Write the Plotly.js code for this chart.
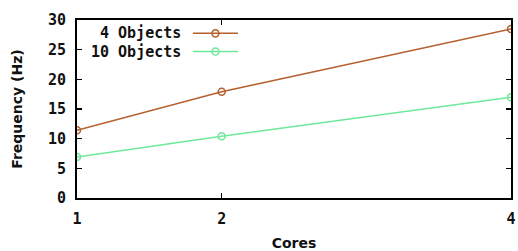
<!DOCTYPE html>
<html><head><meta charset="utf-8">
<script src="https://cdn.plot.ly/plotly-3.0.1.min.js"></script>
<style>html,body{margin:0;padding:0;background:#fff}#chart{width:518px;height:251px}</style>
</head><body><div id="chart"></div>
<script>
const cores = [1, 2, 4];
const objects4 = [11.4, 17.9, 28.5];
const objects10 = [6.9, 10.4, 17.0];
const seriesNames = ["4 Objects", "10 Objects"];
const xTicks = [1, 2, 4];
const yTicks = [0, 5, 10, 15, 20, 25, 30];

const brown = "#b5602e";
const green = "#6ee99a";
const monoFont = {family: "DejaVu Sans Mono", size: 15, color: "#111", weight: "bold"};
const titleFont = {family: "DejaVu Sans", size: 14, color: "#111", weight: "bold"};

const traces = [
  {x: cores, y: objects4, name: seriesNames[0], mode: "lines+markers", showlegend: false,
   line: {color: brown, width: 1.5}, marker: {symbol: "circle-open", size: 7, color: brown, line: {width: 1.5}}},
  {x: cores, y: objects10, name: seriesNames[1], mode: "lines+markers", showlegend: false,
   line: {color: green, width: 1.5}, marker: {symbol: "circle-open", size: 7, color: green, line: {width: 1.5}}}
];

const axisCommon = {
  showgrid: false, zeroline: false, showline: true, linecolor: "#000", linewidth: 2,
  mirror: "allticks", ticks: "inside", ticklen: 5, tickcolor: "#000", tickwidth: 1.5,
  tickfont: monoFont
};

const legendY = [0.925, 0.823];
const colors = [brown, green];
const shapes = [];
const annotations = [];
seriesNames.forEach((n, i) => {
  annotations.push({xref: "paper", yref: "paper", x: 0.245, y: legendY[i], xanchor: "right", yanchor: "middle",
    text: n, showarrow: false, font: monoFont});
  shapes.push({type: "line", xref: "paper", yref: "paper", x0: 0.267, x1: 0.371, y0: legendY[i], y1: legendY[i],
    line: {color: colors[i], width: 1.5}});
  shapes.push({type: "circle", xref: "paper", yref: "paper", x0: 0.311, x1: 0.327,
    y0: legendY[i] - 0.02, y1: legendY[i] + 0.02, line: {color: colors[i], width: 1.5}, fillcolor: "rgba(0,0,0,0)"});
});

const layout = {
  width: 518, height: 251,
  margin: {l: 77, r: 7, t: 20, b: 53},
  paper_bgcolor: "#fff", plot_bgcolor: "#fff",
  showlegend: false,
  xaxis: Object.assign({}, axisCommon, {range: [1, 4], tickvals: xTicks, ticktext: xTicks.map(String),
    ticklabelstandoff: 6,
    title: {text: "Cores", font: titleFont, standoff: 14}}),
  yaxis: Object.assign({}, axisCommon, {range: [0, 30], tickvals: yTicks,
    ticklabelstandoff: 6,
    title: {text: "Frequency (Hz)", font: titleFont, standoff: 22}}),
  shapes: shapes,
  annotations: annotations
};

Plotly.newPlot("chart", traces, layout, {displayModeBar: false, staticPlot: true});
</script>
</body></html>
